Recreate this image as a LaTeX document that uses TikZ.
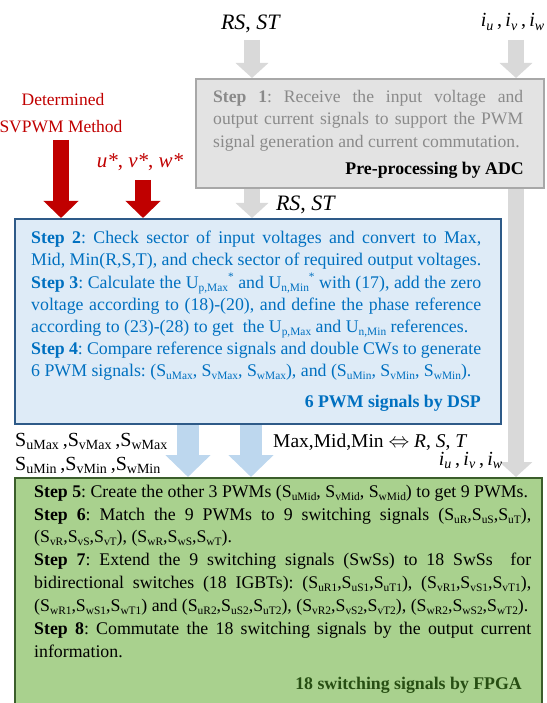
\documentclass[tikz,border=0pt]{standalone}
\usepackage{fontspec}
\usepackage{graphicx}
\setmainfont{Liberation Serif}
\usetikzlibrary{arrows.meta}

\definecolor{arrowgray}{HTML}{D9D9D9}
\definecolor{adcfill}{HTML}{E3E3E3}
\definecolor{adcline}{HTML}{A8A8A8}
\definecolor{adctext}{HTML}{8A8A8A}
\definecolor{svred}{HTML}{C00000}
\definecolor{dspfill}{HTML}{DEEBF7}
\definecolor{dspline}{HTML}{2E5A88}
\definecolor{dsptext}{HTML}{0070C0}
\definecolor{dsparrow}{HTML}{BDD7EE}
\definecolor{fpgafill}{HTML}{A9D18E}
\definecolor{fpgaline}{HTML}{3B5E2B}
\definecolor{fpgatitle}{HTML}{274E13}

% small lowered subscripts, as in the printed signal names
\newcommand\sbs[1]{\raisebox{-0.17em}{\scalebox{0.64}{#1}}}
\newcommand\sps[1]{\raisebox{0.45em}{\scalebox{0.64}{#1}}}
\newcommand\ital[1]{\textit{#1}}
\newcommand\nohyph{\hyphenpenalty=10000 \exhyphenpenalty=10000 \frenchspacing}

\begin{document}
\begin{tikzpicture}[x=1pt,y=-1pt,
  block/.style={draw, line width=2pt, anchor=north west, inner sep=0pt},
  para/.style={anchor=north west, inner sep=0pt, align=justify},
  lbl/.style={inner sep=0pt},
  grayarrow/.style={color=arrowgray, line width=16pt, -{Triangle[width=32pt,length=15pt]}},
  redarrow/.style={color=svred, line width=16pt, -{Triangle[width=34pt,length=17pt]}},
  bluearrow/.style={color=dsparrow, line width=22pt, -{Triangle[width=44pt,length=22pt]}},
  bodyA/.style={font=\fontsize{17.6}{22.5}\selectfont\nohyph},
  bodyB/.style={font=\fontsize{17.8}{22.2}\selectfont\nohyph},
  bodyC/.style={font=\fontsize{17.8}{22.85}\selectfont\nohyph},
  title/.style={lbl, anchor=base east, font=\fontsize{17.8}{22}\selectfont\bfseries},
  sig/.style={lbl, font=\fontsize{20}{24}\selectfont},
]
\useasboundingbox (0,0) rectangle (546,703);
\clip (0,0) rectangle (546,703);

% the three processing stages
\node[block, draw=adcline, fill=adcfill, minimum width=348pt, minimum height=109pt] (adc) at (195,78) {};
\node[block, draw=dspline, fill=dspfill, minimum width=486pt, minimum height=205pt] (dsp) at (14,218) {};
\node[block, draw=fpgaline, fill=fpgafill, minimum width=527pt, minimum height=240pt] (fpga) at (14,477) {};

% inputs and signal paths
\coordinate (rsin) at (252,40);
\coordinate (iin) at (516,40);
\coordinate (svtop) at (61,140);
\coordinate (uvwtop) at (143,180);
\coordinate (pwmA) at (188,0);
\coordinate (pwmB) at (251,0);

\draw[grayarrow] (rsin) -- (rsin |- adc.north);
\draw[grayarrow] (iin) -- (iin |- adc.north);
\draw[grayarrow] (adc.south -| rsin) -- (dsp.north -| rsin);
\draw[grayarrow] (adc.south -| iin) -- (fpga.north -| iin);
\draw[redarrow] (svtop) -- (svtop |- dsp.north);
\draw[redarrow] (uvwtop) -- (uvwtop |- dsp.north);
\draw[bluearrow] (dsp.south -| pwmA) -- (fpga.north -| pwmA);
\draw[bluearrow] (dsp.south -| pwmB) -- (fpga.north -| pwmB);

% labels
\node[sig, anchor=base, font=\fontsize{22}{26}\selectfont] (rsTop) at (251,30) {\ital{RS}, \ital{ST}};
\node[sig, anchor=base east] (iTop) at (545,27) {\ital{i}\textsubscript{\ital{u}}\,,\,\ital{i}\textsubscript{\ital{v}}\,,\,\ital{i}\textsubscript{\ital{w}}};
\node[sig, anchor=base, font=\fontsize{22}{26}\selectfont] (rsMid) at (306,211) {\ital{RS}, \ital{ST}};
\node[lbl, anchor=base, font=\fontsize{17.5}{21}\selectfont, text=svred] (det) at (63,106) {Determined};
\node[lbl, anchor=base, font=\fontsize{17.5}{21}\selectfont, text=svred] (svm) at (61,133) {SVPWM Method};
\node[lbl, anchor=base, font=\fontsize{21}{25}\selectfont, text=svred] (uvw) at (140,168) {\ital{u*}, \ital{v*}, \ital{w*}};
\node[sig, anchor=base west] (smax) at (15,446) {S\textsubscript{uMax}\,,S\textsubscript{vMax}\,,S\textsubscript{wMax}};
\node[sig, anchor=base west] (smin) at (15,470) {S\textsubscript{uMin}\,,S\textsubscript{vMin}\,,S\textsubscript{wMin}};
\node[sig, anchor=base west, font=\fontsize{19.5}{24}\selectfont] (mmm) at (273,447) {Max,Mid,Min $\Leftrightarrow$ \ital{R}, \ital{S}, \ital{T}};
\node[sig, anchor=base east] (iLow) at (503,465) {\ital{i}\textsubscript{\ital{u}}\,,\,\ital{i}\textsubscript{\ital{v}}\,,\,\ital{i}\textsubscript{\ital{w}}};

% stage texts
\node[para, bodyA, text width=310pt, text=adctext] (s1) at (213,86.25)
 {\strut\textbf{Step 1}: Receive the input voltage and\linebreak
  output current signals to support the PWM\linebreak
  signal generation and current commutation.};
\node[title] (adcname) at (524,175) {Pre-processing by ADC};

\node[para, bodyB, text width=450pt, text=dsptext] (s234) at (31,228)
 {\strut\textbf{Step 2}: Check sector of input voltages and convert to Max,\linebreak
  Mid, Min(R,S,T), and check sector of required output voltages.\par
  \textbf{Step 3}: Calculate the U\sbs{p,Max}\sps{*} and U\sbs{n,Min}\sps{*} with (17), add the zero\linebreak
  voltage according to (18)-(20), and define the phase reference\linebreak
  according to (23)-(28) to get\ \ the U\sbs{p,Max} and U\sbs{n,Min} references.\par
  \textbf{Step 4}: Compare reference signals and double CWs to generate\linebreak
  6 PWM signals: (S\sbs{uMax}, S\sbs{vMax}, S\sbs{wMax}), and (S\sbs{uMin}, S\sbs{vMin}, S\sbs{wMin}).};
\node[title, text=dsptext] (dspname) at (481,407) {6 PWM signals by DSP};

\node[para, bodyC, text width=497pt] (s5to8) at (34,481)
 {\strut\textbf{Step 5}: Create the other 3 PWMs (S\sbs{uMid}, S\sbs{vMid}, S\sbs{wMid}) to get 9 PWMs.\par
  \textbf{Step 6}: Match the 9 PWMs to 9 switching signals (S\sbs{uR},S\sbs{uS},S\sbs{uT}),\linebreak
  (S\sbs{vR},S\sbs{vS},S\sbs{vT}), (S\sbs{wR},S\sbs{wS},S\sbs{wT}).\par
  \textbf{Step 7}: Extend the 9 switching signals (SwSs) to 18 SwSs\ \ for\linebreak
  bidirectional switches (18 IGBTs): (S\sbs{uR1},S\sbs{uS1},S\sbs{uT1}), (S\sbs{vR1},S\sbs{vS1},S\sbs{vT1}),\linebreak
  (S\sbs{wR1},S\sbs{wS1},S\sbs{wT1}) and (S\sbs{uR2},S\sbs{uS2},S\sbs{uT2}), (S\sbs{vR2},S\sbs{vS2},S\sbs{vT2}), (S\sbs{wR2},S\sbs{wS2},S\sbs{wT2}).\par
  \textbf{Step 8}: Commutate the 18 switching signals by the output current\linebreak
  information.};
\node[title, text=fpgatitle] (fpganame) at (522,689) {18 switching signals by FPGA};
\end{tikzpicture}
\end{document}
